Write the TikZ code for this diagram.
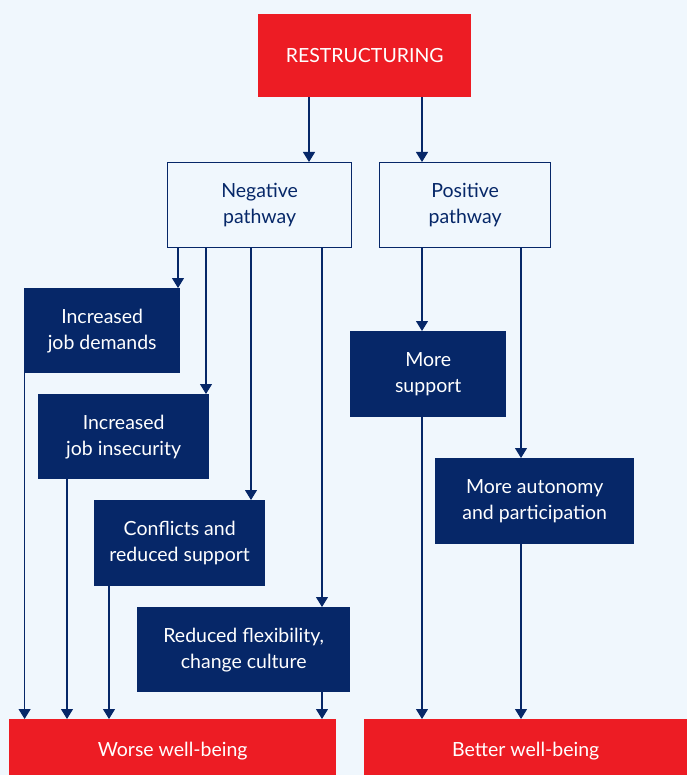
\documentclass[tikz,border=0pt]{standalone}
\usepackage{fontspec}
\setmainfont{Lato}
\usetikzlibrary{arrows.meta}
\definecolor{navy}{HTML}{062768}
\definecolor{redc}{HTML}{ED1C24}
\definecolor{bg}{HTML}{F0F7FD}
\begin{document}
\begin{tikzpicture}[x=1pt,y=-1pt,
  base/.style={anchor=north west, inner sep=0pt, align=center, font=\fontsize{19.5}{26}\selectfont},
  redbox/.style={base, fill=redc, text=white},
  navybox/.style={base, fill=navy, text=white},
  pathbox/.style={base, fill=bg, draw=navy, line width=1.2pt, text=navy},
  arr/.style={draw=navy, line width=1.1pt, -{Triangle[width=12pt,length=10pt]}, shorten >=0pt}]
\fill[bg] (0,0) rectangle (687,775);
\useasboundingbox (0,0) rectangle (687,775);
% boxes
\node[redbox, minimum width=213pt, minimum height=83pt] (rest) at (258,14) {RESTRUCTURING};
\node[pathbox, minimum width=184pt, minimum height=85pt] (neg) at (167,162) {Negative\\pathway};
\node[pathbox, minimum width=171pt, minimum height=85pt] (pos) at (379,162) {Positive\\pathway};
\node[navybox, minimum width=156pt, minimum height=85pt] (jd) at (24,288) {Increased\\job demands};
\node[navybox, minimum width=171pt, minimum height=85pt] (ji) at (38,394) {Increased\\job insecurity};
\node[navybox, minimum width=171pt, minimum height=86pt] (cr) at (94,500) {Conflicts and\\reduced support};
\node[navybox, minimum width=213pt, minimum height=85pt] (rf) at (137,607) {Reduced flexibility,\\change culture};
\node[navybox, minimum width=156pt, minimum height=86pt] (ms) at (350,331) {More\\support};
\node[navybox, minimum width=199pt, minimum height=86pt] (ma) at (435,458) {More autonomy\\and participation};
\node[redbox, minimum width=327pt, minimum height=64pt] (worse) at (9,719) {Worse well-being};
\node[redbox, minimum width=323pt, minimum height=64pt] (better) at (364,719) {Better well-being};
% x positions of connectors
\coordinate (x1) at (309,0);
\coordinate (x2) at (422,0);
\coordinate (x3) at (178,0);
\coordinate (x4) at (206,0);
\coordinate (x5) at (251,0);
\coordinate (x6) at (322,0);
\coordinate (x7) at (521,0);
\coordinate (x8) at (24.6,0);
\coordinate (x9) at (67,0);
\coordinate (x10) at (109,0);
% connectors
\draw[arr] (rest.south -| x1) -- (neg.north -| x1);
\draw[arr] (rest.south -| x2) -- (pos.north -| x2);
\draw[arr] (neg.south -| x3) -- (jd.north -| x3);
\draw[arr] (neg.south -| x4) -- (ji.north -| x4);
\draw[arr] (neg.south -| x5) -- (cr.north -| x5);
\draw[arr] (neg.south -| x6) -- (rf.north -| x6);
\draw[arr] (pos.south -| x2) -- (ms.north -| x2);
\draw[arr] (pos.south -| x7) -- (ma.north -| x7);
\draw[arr] (jd.south -| x8) -- (worse.north -| x8);
\draw[arr] (ji.south -| x9) -- (worse.north -| x9);
\draw[arr] (cr.south -| x10) -- (worse.north -| x10);
\draw[arr] (rf.south -| x6) -- (worse.north -| x6);
\draw[arr] (ms.south -| x2) -- (better.north -| x2);
\draw[arr] (ma.south -| x7) -- (better.north -| x7);
\end{tikzpicture}
\end{document}
